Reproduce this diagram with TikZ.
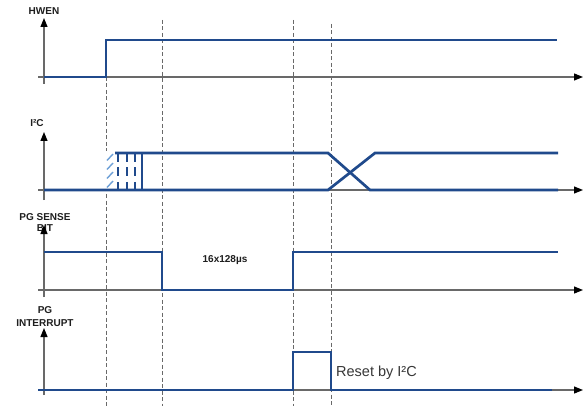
\documentclass[tikz,border=0pt]{standalone}
\usepackage{fontspec}
\setmainfont{Liberation Sans}
\usetikzlibrary{arrows.meta}
\definecolor{sig}{RGB}{32,74,140}
\definecolor{hatch}{RGB}{110,160,215}
\definecolor{axis}{RGB}{105,105,105}
\definecolor{guide}{RGB}{105,105,105}
\definecolor{txt}{RGB}{30,30,30}
\begin{document}
\begin{tikzpicture}[x=1pt,y=-1pt,
  axisline/.style={draw=axis,line width=1.2pt,-{Triangle[length=9pt,width=7pt,fill=black,color=black]}},
  guideline/.style={draw=guide,line width=0.9pt,dash pattern=on 4pt off 2.5pt},
  signal/.style={draw=sig,line width=2.7pt,line join=miter},
  lbl/.style={font=\fontsize{10}{10}\selectfont\bfseries,text=txt,inner sep=0pt},
  hatchline/.style={draw=hatch,line width=1.4pt}]
\useasboundingbox (0,0) rectangle (583,406);
\fill[white] (0,0) rectangle (583,406);
% guide lines
\draw[guideline] (106,77) -- (106,406);
\draw[guideline] (162,20) -- (162,406);
\draw[guideline] (293,20) -- (293,406);
\draw[guideline] (331,24) -- (331,406);
% labels
\node[lbl] (lhwen) at (44,11) {HWEN};
\node[lbl] (li2c) at (37,123) {I²C};
\node[lbl] (lpg1) at (45,217) {PG SENSE};
\node[lbl] (lpg2) at (45,228) {BIT};
\node[lbl] (lint1) at (45,310) {PG};
\node[lbl] (lint2) at (45,323) {INTERRUPT};
\node[lbl] (ldur) at (225,260) {16x128µs};
\node[font=\fontsize{14.5}{15}\selectfont,text={rgb,255:red,55;green,55;blue,55},anchor=west,inner sep=0pt] (lreset) at (336,373) {Reset by I²C};
% axes
\coordinate (h0) at (44,84); \coordinate (h1) at (44,18);
\coordinate (hx0) at (38,77); \coordinate (hx1) at (583,77);
\coordinate (i0) at (44,200); \coordinate (i1) at (44,132);
\coordinate (ix0) at (38,190); \coordinate (ix1) at (583,190);
\coordinate (p0) at (44,297); \coordinate (p1) at (44,225);
\coordinate (px0) at (38,290); \coordinate (px1) at (583,290);
\coordinate (q0) at (44,395); \coordinate (q1) at (44,328);
\coordinate (qx0) at (38,390); \coordinate (qx1) at (583,390);
\draw[axisline] (h0) -- (h1);
\draw[axisline] (hx0) -- (hx1);
\draw[axisline] (i0) -- (i1);
\draw[axisline] (ix0) -- (ix1);
\draw[axisline] (p0) -- (p1);
\draw[axisline] (px0) -- (px1);
\draw[axisline] (q0) -- (q1);
\draw[axisline] (qx0) -- (qx1);
% HWEN signal
\draw[signal] (44,77) -- (106,77) -- (106,40) -- (557,40);
% I2C signal
\fill[white] (106,151) rectangle (114,191);
\foreach \yy in {157,166,175,184}
  \draw[hatchline] (107,\yy+3.5) -- (113,\yy-3);
\draw[signal] (44,190) -- (328,190) -- (375,153) -- (558,153);
\draw[signal] (115,153) -- (328,153) -- (370,190) -- (558,190);
\draw[signal] (142,153) -- (142,190);
\foreach \xx in {118,127,135}
  \draw[signal,dash pattern=on 9pt off 5.5pt] (\xx,153) -- (\xx,190);
% PG sense
\draw[signal] (44,252) -- (162,252) -- (162,290) -- (293,290) -- (293,252) -- (558,252);
% PG interrupt
\draw[signal] (38,390) -- (293,390) -- (293,352) -- (331,352) -- (331,390) -- (552,390);
\end{tikzpicture}
\end{document}
